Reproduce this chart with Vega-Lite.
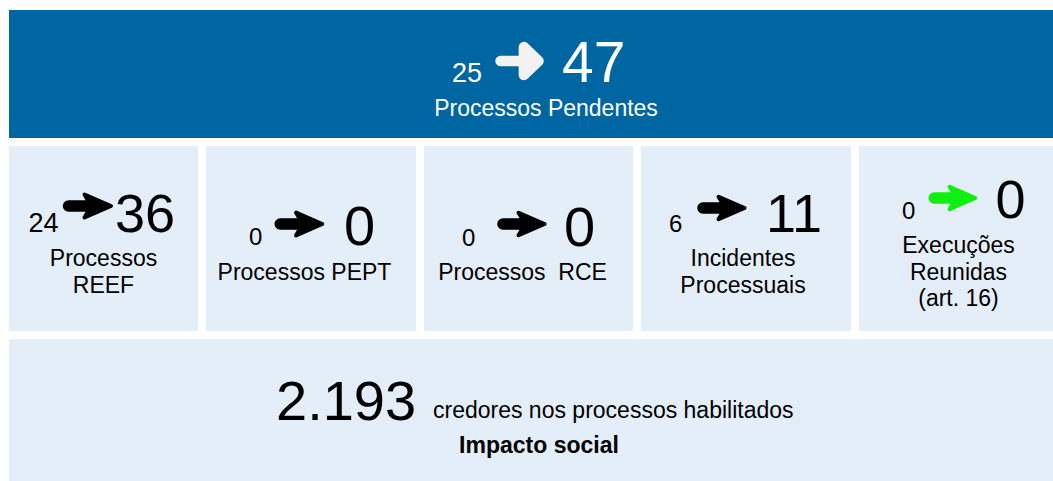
{
  "$schema": "https://vega.github.io/schema/vega-lite/v6.json",
  "padding": {"left": 9, "top": 10, "right": 0, "bottom": 0},
  "background": "#FFFFFF",
  "datasets": {
    "cards": [
      {"card": "Processos Pendentes", "antes": 25, "depois": 47, "rotulo": "Processos Pendentes"},
      {"card": "REEF", "antes": 24, "depois": 36, "rotulo": "Processos\nREEF"},
      {"card": "PEPT", "antes": 0, "depois": 0, "rotulo": "Processos PEPT"},
      {"card": "RCE", "antes": 0, "depois": 0, "rotulo": "Processos\u00a0 RCE"},
      {"card": "Incidentes", "antes": 6, "depois": 11, "rotulo": "Incidentes\nProcessuais"},
      {"card": "Execuções", "antes": 0, "depois": 0, "rotulo": "Execuções\nReunidas\n(art. 16)"},
      {"card": "Impacto social", "valor": 2193, "descricao": "credores nos processos habilitados", "rotulo": "Impacto social"}
    ]
  },
  "data": {"name": "cards"},
  "spacing": 8,
  "vconcat": [
    {
      "width": 1044, "height": 128,
      "view": {"fill": "#0066A1", "stroke": null},
      "transform": [{"filter": "datum.card === 'Processos Pendentes'"}],
      "layer": [
        {"mark": {"type": "text", "align": "left", "baseline": "alphabetic", "fontSize": 27, "color": "#FFFFFF", "dx": -79, "dy": 8}, "encoding": {"text": {"field": "antes", "type": "nominal"}}},
        {"mark": {"type": "point", "shape": "M -1,0 L 0.95,0 M 0.2,-0.72 L 0.95,0 L 0.2,0.72 Z", "size": 1521, "filled": true, "color": "#F2F2F2", "stroke": "#F2F2F2", "strokeWidth": 10.5, "strokeCap": "round", "strokeJoin": "round", "opacity": 1, "xOffset": -11, "yOffset": -13}, "encoding": {}},
        {"mark": {"type": "text", "align": "left", "baseline": "alphabetic", "fontSize": 57, "color": "#FFFFFF", "dx": 31, "dy": 8}, "encoding": {"text": {"field": "depois", "type": "nominal"}}},
        {"mark": {"type": "text", "align": "center", "baseline": "alphabetic", "fontSize": 23, "color": "#FFFFFF", "dx": 15, "dy": 42}, "encoding": {"text": {"field": "rotulo", "type": "nominal"}}}
      ]
    },
    {
      "spacing": 8,
      "hconcat": [
        {
          "width": 189, "height": 185,
          "view": {"fill": "#E4EEF8", "stroke": null},
          "transform": [{"filter": "datum.card === 'REEF'"}],
          "layer": [
            {"mark": {"type": "text", "align": "left", "baseline": "alphabetic", "fontSize": 27, "color": "#000000", "dx": -75, "dy": -6.5}, "encoding": {"text": {"field": "antes", "type": "nominal"}}},
            {"mark": {"type": "point", "shape": "M -0.78,-0.15 L 0.04,-0.15 L -0.14,-0.46 L 0.92,0 L -0.14,0.46 L 0.04,0.15 L -0.78,0.15 A 0.15,0.15 0 0 1 -0.78,-0.15 Z", "size": 2500, "filled": true, "color": "#000000", "stroke": "#000000", "strokeWidth": 4, "strokeJoin": "round", "opacity": 1, "xOffset": -15.5, "yOffset": -32.5}, "encoding": {}},
            {"mark": {"type": "text", "align": "left", "baseline": "alphabetic", "fontSize": 54, "color": "#000000", "dx": 11.5, "dy": -6.5}, "encoding": {"text": {"field": "depois", "type": "nominal"}}},
            {"mark": {"type": "text", "align": "center", "baseline": "alphabetic", "fontSize": 23, "lineHeight": 26.5, "lineBreak": "\n", "color": "#000000", "dx": 0, "dy": 27.5}, "encoding": {"text": {"field": "rotulo", "type": "nominal"}}}
          ]
        },
        {
          "width": 210, "height": 185,
          "view": {"fill": "#E4EEF8", "stroke": null},
          "transform": [{"filter": "datum.card === 'PEPT'"}],
          "layer": [
            {"mark": {"type": "text", "align": "left", "baseline": "alphabetic", "fontSize": 24, "color": "#000000", "dx": -62, "dy": 6.5}, "encoding": {"text": {"field": "antes", "type": "nominal"}}},
            {"mark": {"type": "point", "shape": "M -0.78,-0.15 L 0.04,-0.15 L -0.14,-0.46 L 0.92,0 L -0.14,0.46 L 0.04,0.15 L -0.78,0.15 A 0.15,0.15 0 0 1 -0.78,-0.15 Z", "size": 2450, "filled": true, "color": "#000000", "stroke": "#000000", "strokeWidth": 4, "strokeJoin": "round", "opacity": 1, "xOffset": -11.5, "yOffset": -14.5}, "encoding": {}},
            {"mark": {"type": "text", "align": "left", "baseline": "alphabetic", "fontSize": 56, "color": "#000000", "dx": 33, "dy": 6.5}, "encoding": {"text": {"field": "depois", "type": "nominal"}}},
            {"mark": {"type": "text", "align": "center", "baseline": "alphabetic", "fontSize": 23, "color": "#000000", "dx": -6.5, "dy": 41.5}, "encoding": {"text": {"field": "rotulo", "type": "nominal"}}}
          ]
        },
        {
          "width": 209, "height": 185,
          "view": {"fill": "#E4EEF8", "stroke": null},
          "transform": [{"filter": "datum.card === 'RCE'"}],
          "layer": [
            {"mark": {"type": "text", "align": "left", "baseline": "alphabetic", "fontSize": 24, "color": "#000000", "dx": -66.5, "dy": 7.5}, "encoding": {"text": {"field": "antes", "type": "nominal"}}},
            {"mark": {"type": "point", "shape": "M -0.78,-0.15 L 0.04,-0.15 L -0.14,-0.46 L 0.92,0 L -0.14,0.46 L 0.04,0.15 L -0.78,0.15 A 0.15,0.15 0 0 1 -0.78,-0.15 Z", "size": 2400, "filled": true, "color": "#000000", "stroke": "#000000", "strokeWidth": 4, "strokeJoin": "round", "opacity": 1, "xOffset": -6.5, "yOffset": -14.5}, "encoding": {}},
            {"mark": {"type": "text", "align": "left", "baseline": "alphabetic", "fontSize": 56, "color": "#000000", "dx": 35.5, "dy": 7.5}, "encoding": {"text": {"field": "depois", "type": "nominal"}}},
            {"mark": {"type": "text", "align": "center", "baseline": "alphabetic", "fontSize": 23, "color": "#000000", "dx": -6, "dy": 41.5}, "encoding": {"text": {"field": "rotulo", "type": "nominal"}}}
          ]
        },
        {
          "width": 210, "height": 185,
          "view": {"fill": "#E4EEF8", "stroke": null},
          "transform": [{"filter": "datum.card === 'Incidentes'"}],
          "layer": [
            {"mark": {"type": "text", "align": "left", "baseline": "alphabetic", "fontSize": 24, "color": "#000000", "dx": -77, "dy": -6.5}, "encoding": {"text": {"field": "antes", "type": "nominal"}}},
            {"mark": {"type": "point", "shape": "M -0.78,-0.15 L 0.04,-0.15 L -0.14,-0.46 L 0.92,0 L -0.14,0.46 L 0.04,0.15 L -0.78,0.15 A 0.15,0.15 0 0 1 -0.78,-0.15 Z", "size": 2400, "filled": true, "color": "#000000", "stroke": "#000000", "strokeWidth": 4, "strokeJoin": "round", "opacity": 1, "xOffset": -24, "yOffset": -30.5}, "encoding": {}},
            {"mark": {"type": "text", "align": "left", "baseline": "alphabetic", "fontSize": 54, "color": "#000000", "dx": 20, "dy": -6.5}, "encoding": {"text": {"field": "depois", "type": "nominal"}}},
            {"mark": {"type": "text", "align": "center", "baseline": "alphabetic", "fontSize": 23, "lineHeight": 26.5, "lineBreak": "\n", "color": "#000000", "dx": -3, "dy": 27.5}, "encoding": {"text": {"field": "rotulo", "type": "nominal"}}}
          ]
        },
        {
          "width": 194, "height": 185,
          "view": {"fill": "#E4EEF8", "stroke": null},
          "transform": [{"filter": "datum.card === 'Execuções'"}],
          "layer": [
            {"mark": {"type": "text", "align": "left", "baseline": "alphabetic", "fontSize": 24, "color": "#000000", "dx": -54, "dy": -19.5}, "encoding": {"text": {"field": "antes", "type": "nominal"}}},
            {"mark": {"type": "point", "shape": "M -0.78,-0.15 L 0.04,-0.15 L -0.14,-0.46 L 0.92,0 L -0.14,0.46 L 0.04,0.15 L -0.78,0.15 A 0.15,0.15 0 0 1 -0.78,-0.15 Z", "size": 2350, "filled": true, "color": "#11EE11", "stroke": "#11EE11", "strokeWidth": 4, "strokeJoin": "round", "opacity": 1, "xOffset": -3, "yOffset": -40.5}, "encoding": {}},
            {"mark": {"type": "text", "align": "left", "baseline": "alphabetic", "fontSize": 54, "color": "#000000", "dx": 39.5, "dy": -20.5}, "encoding": {"text": {"field": "depois", "type": "nominal"}}},
            {"mark": {"type": "text", "align": "center", "baseline": "alphabetic", "fontSize": 23, "lineHeight": 26.5, "lineBreak": "\n", "color": "#000000", "dx": 2.5, "dy": 14.5}, "encoding": {"text": {"field": "rotulo", "type": "nominal"}}}
          ]
        }
      ]
    },
    {
      "width": 1044, "height": 142,
      "view": {"fill": "#E4EEF8", "stroke": null},
      "transform": [{"filter": "datum.card === 'Impacto social'"}],
      "layer": [
        {"mark": {"type": "text", "align": "left", "baseline": "alphabetic", "fontSize": 56, "color": "#000000", "dx": -255, "dy": 10}, "encoding": {"text": {"field": "valor", "type": "quantitative", "format": ",d"}}},
        {"mark": {"type": "text", "align": "left", "baseline": "alphabetic", "fontSize": 23, "color": "#000000", "dx": -98, "dy": 8}, "encoding": {"text": {"field": "descricao", "type": "nominal"}}},
        {"mark": {"type": "text", "align": "center", "baseline": "alphabetic", "fontSize": 23, "fontWeight": "bold", "color": "#000000", "dx": 8, "dy": 43}, "encoding": {"text": {"field": "rotulo", "type": "nominal"}}}
      ]
    }
  ],
  "config": {
    "view": {"stroke": null},
    "text": {"font": "Liberation Sans"},
    "locale": {"number": {"decimal": ",", "thousands": ".", "grouping": [3], "currency": ["€", ""]}}
  }
}
